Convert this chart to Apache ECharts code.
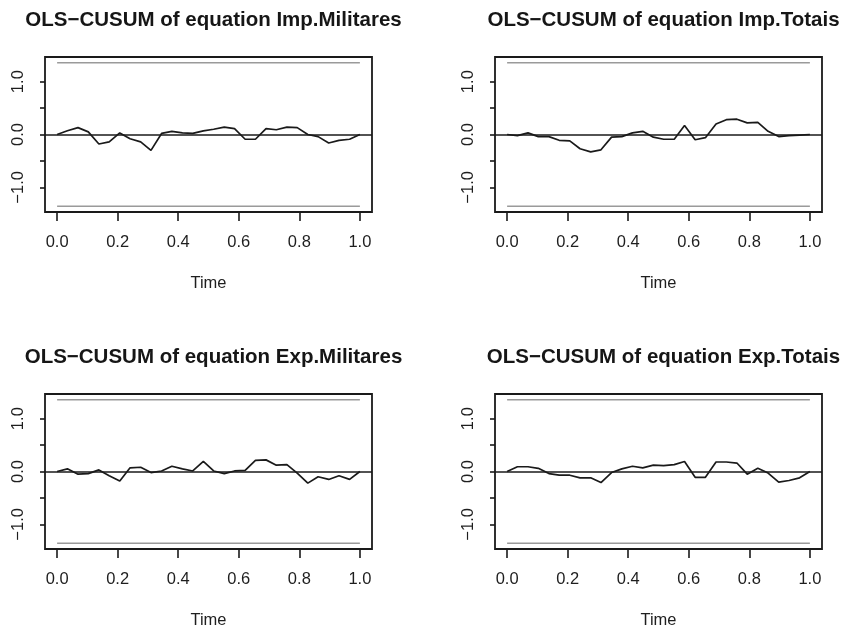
<!DOCTYPE html>
<html><head><meta charset="utf-8">
<script src="https://cdn.jsdelivr.net/npm/echarts@6/dist/echarts.min.js"></script>
<style>html,body{margin:0;padding:0;background:#fff}#c{width:844px;height:630px}</style>
</head><body><div id="c"></div>
<script>
const time = [0.000,0.034,0.069,0.103,0.138,0.172,0.207,0.241,0.276,0.310,0.345,0.379,0.414,0.448,0.483,0.517,0.552,0.586,0.621,0.655,0.690,0.724,0.759,0.793,0.828,0.862,0.897,0.931,0.966,1.000];
const titles = ['OLS\u2212CUSUM of equation Imp.Militares','OLS\u2212CUSUM of equation Imp.Totais','OLS\u2212CUSUM of equation Exp.Militares','OLS\u2212CUSUM of equation Exp.Totais'];
const impMilitares = [0,0.07,0.13,0.05,-0.18,-0.14,0.03,-0.08,-0.14,-0.30,0.02,0.06,0.03,0.02,0.07,0.10,0.14,0.11,-0.09,-0.09,0.11,0.09,0.14,0.13,0.00,-0.04,-0.16,-0.11,-0.09,0];
const impTotais = [0,-0.02,0.03,-0.04,-0.04,-0.11,-0.12,-0.27,-0.33,-0.29,-0.05,-0.04,0.03,0.06,-0.05,-0.09,-0.09,0.17,-0.10,-0.06,0.20,0.28,0.29,0.22,0.23,0.06,-0.04,-0.02,-0.01,0];
const expMilitares = [0,0.05,-0.05,-0.04,0.03,-0.08,-0.18,0.07,0.08,-0.02,0.01,0.10,0.05,0.01,0.19,0.01,-0.04,0.01,0.02,0.21,0.22,0.12,0.13,-0.03,-0.22,-0.10,-0.15,-0.08,-0.15,0];
const expTotais = [0,0.09,0.09,0.06,-0.04,-0.07,-0.07,-0.12,-0.12,-0.21,-0.02,0.05,0.10,0.07,0.12,0.11,0.13,0.19,-0.11,-0.11,0.18,0.18,0.16,-0.05,0.06,-0.03,-0.20,-0.17,-0.12,0];
const boundary = 1.358;
const xTicks = [0,0.2,0.4,0.6,0.8,1.0];
const yTicks = [-1,-0.5,0,0.5,1];
const yLabels = [-1,0,1];

const panels = [impMilitares, impTotais, expMilitares, expTotais];
const boxes = [
  {left:45, top:57, width:327, height:155},
  {left:495, top:57, width:327, height:155},
  {left:45, top:394, width:327, height:156},
  {left:495, top:394, width:327, height:156}
];
const FONT = "'Liberation Sans', Arial, sans-serif";
const fmt = v => v.toFixed(1).replace('-', '\u2212');
const ymax = boundary * 1.08;

const option = {
  animation: false,
  backgroundColor: '#fff',
  title: boxes.map((b,i) => ({
    text: titles[i], left: b.left + b.width/2, top: b.top - 52, textAlign: 'center',
    textStyle: {fontFamily: FONT, fontSize: 20.5, fontWeight: 'bold', color: '#161616'}
  })),
  grid: boxes.map(b => ({left:b.left, top:b.top, width:b.width, height:b.height, show:true, borderColor:'#1a1a1a', borderWidth:1.8, backgroundColor:'transparent', containLabel:false})),
  xAxis: boxes.map((b,i) => ({
    type:'value', gridIndex:i, min:-0.04, max:1.04, position:'bottom',
    name:'Time', nameLocation:'middle', nameGap:63,
    nameTextStyle:{fontFamily:FONT, fontSize:16.5, color:'#1e1e1e'},
    axisLine:{show:false, onZero:false}, splitLine:{show:false},
    axisTick:{show:true, customValues:xTicks, length:9, inside:false, lineStyle:{color:'#1a1a1a', width:1.6}},
    axisLabel:{customValues:xTicks, formatter:fmt, margin:22, fontFamily:FONT, fontSize:16.5, color:'#1e1e1e'}
  })),
  yAxis: boxes.map((b,i) => ({
    type:'value', gridIndex:i, min:-ymax, max:ymax, position:'left',
    axisLine:{show:false, onZero:false}, splitLine:{show:false},
    axisTick:{show:true, customValues:yTicks, length:5, inside:false, lineStyle:{color:'#1a1a1a', width:1.6}},
    axisLabel:{customValues:yLabels, formatter:fmt, rotate:90, margin:18, fontFamily:FONT, fontSize:16.5, color:'#1e1e1e'}
  })),
  series: []
};
panels.forEach((vals, i) => {
  option.series.push({
    type:'line', xAxisIndex:i, yAxisIndex:i, showSymbol:false, silent:true,
    data: time.map((t,k) => [t, vals[k]]),
    lineStyle:{color:'#1a1a1a', width:1.7},
    markLine:{silent:true, symbol:'none', label:{show:false},
      lineStyle:{color:'#1a1a1a', width:1.6, type:'solid'}, data:[{yAxis:0}]}
  });
  [boundary, -boundary].forEach(b => option.series.push({
    type:'line', xAxisIndex:i, yAxisIndex:i, showSymbol:false, silent:true,
    data:[[0,b],[1,b]], lineStyle:{color:'#9a9a9a', width:1.6}
  }));
});
echarts.init(document.getElementById('c'), null, {renderer:'canvas'}).setOption(option);
</script>
</body></html>
